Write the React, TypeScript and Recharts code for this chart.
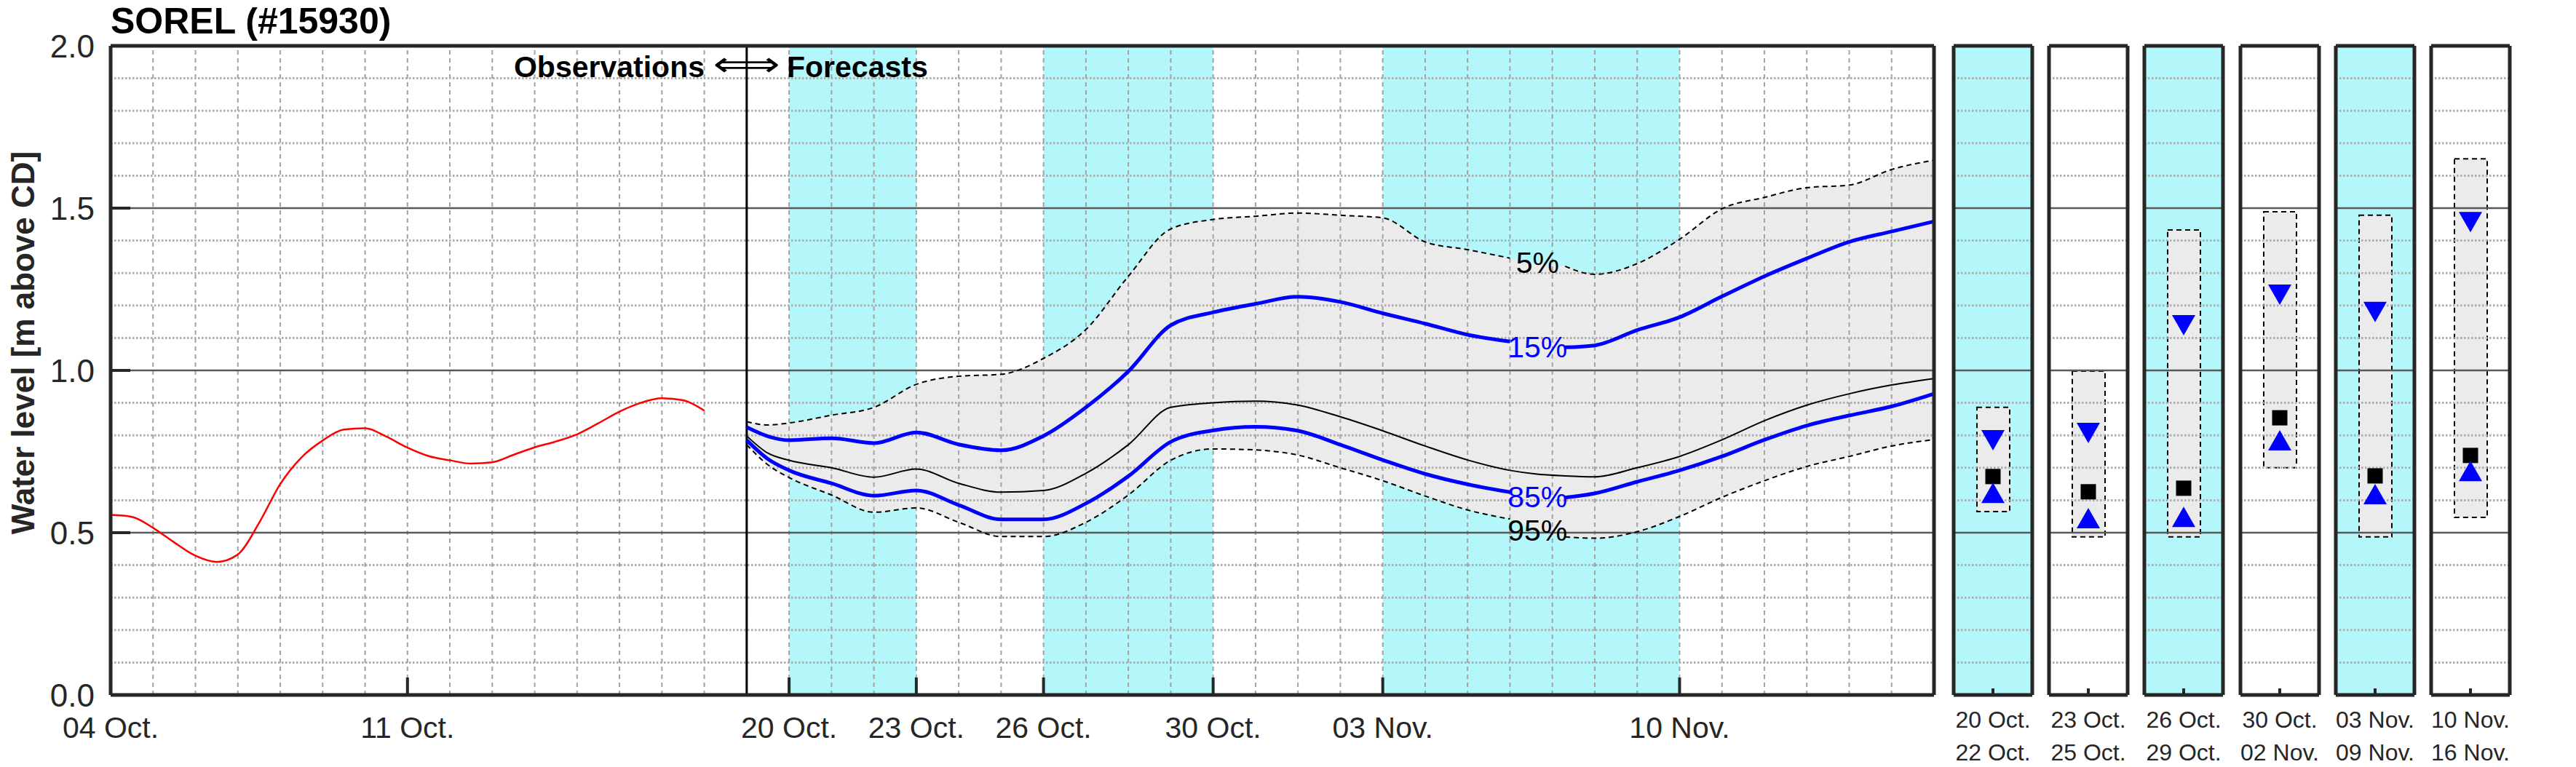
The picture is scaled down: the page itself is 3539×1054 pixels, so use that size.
import React from 'react';
import {
  ComposedChart,
  Line,
  Area,
  Bar,
  Scatter,
  XAxis,
  YAxis,
  ReferenceLine,
  ReferenceArea,
  ReferenceDot,
} from 'recharts';

const FONT = '"Liberation Sans", Arial, Helvetica, sans-serif';
const AXIS = '#262626';
const CYAN = '#b3f7fa';
const BAND = '#ebebeb';

// observed levels, x = days after 04 Oct.
const obsDays = [0, 0.5, 1, 1.5, 2, 2.5, 3, 3.5, 4, 4.5, 5, 5.5, 6, 6.5, 7, 7.5, 8, 8.5, 9, 9.5, 10, 10.5, 11, 11.5, 12, 12.5, 13, 13.5, 14];
const obsLevel = [0.555, 0.549, 0.515, 0.47, 0.429, 0.41, 0.433, 0.53, 0.65, 0.732, 0.784, 0.818, 0.822, 0.796, 0.762, 0.736, 0.723, 0.713, 0.717, 0.74, 0.763, 0.781, 0.803, 0.837, 0.873, 0.9, 0.914, 0.908, 0.876];

// forecast percentiles (exceedance)
const fcDays = [15, 15.5, 16, 17, 18, 19, 20, 21, 22, 23, 24, 25, 26, 27, 28, 29, 30, 31, 32, 33, 33.6, 34.3, 35, 36, 37, 38, 39, 40, 41, 42, 43];
const fcP5 = [0.842, 0.832, 0.838, 0.862, 0.886, 0.957, 0.982, 0.988, 1.037, 1.126, 1.29, 1.436, 1.465, 1.475, 1.485, 1.478, 1.47, 1.396, 1.372, 1.346, 1.33, 1.321, 1.296, 1.329, 1.404, 1.498, 1.533, 1.563, 1.571, 1.619, 1.648];
const fcP15 = [0.825, 0.797, 0.785, 0.791, 0.776, 0.809, 0.772, 0.754, 0.798, 0.886, 0.997, 1.139, 1.179, 1.205, 1.227, 1.211, 1.176, 1.144, 1.11, 1.089, 1.078, 1.071, 1.077, 1.124, 1.164, 1.228, 1.29, 1.345, 1.396, 1.428, 1.459];
const fcP50 = [0.798, 0.745, 0.723, 0.7, 0.671, 0.696, 0.652, 0.625, 0.63, 0.683, 0.771, 0.886, 0.9, 0.905, 0.893, 0.857, 0.814, 0.767, 0.724, 0.692, 0.681, 0.675, 0.672, 0.7, 0.735, 0.786, 0.845, 0.893, 0.928, 0.955, 0.975];
const fcP85 = [0.785, 0.727, 0.692, 0.652, 0.614, 0.63, 0.585, 0.541, 0.541, 0.59, 0.674, 0.78, 0.815, 0.826, 0.814, 0.771, 0.724, 0.681, 0.649, 0.625, 0.615, 0.608, 0.621, 0.657, 0.692, 0.735, 0.786, 0.83, 0.861, 0.889, 0.928];
const fcP95 = [0.771, 0.709, 0.67, 0.616, 0.563, 0.576, 0.532, 0.488, 0.488, 0.532, 0.616, 0.723, 0.758, 0.755, 0.739, 0.7, 0.66, 0.613, 0.57, 0.542, 0.51, 0.487, 0.483, 0.503, 0.55, 0.609, 0.66, 0.704, 0.735, 0.767, 0.787];

// curves are broken where the percent labels sit
const labelDay = 33.65;
const gapFrom = 33;
const gapTo = 34.3;
const pctLabels = ['5%', '15%', '85%', '95%'];
const pctLevels = [1.334, 1.072, 0.612, 0.508];
const pctColors = ['#000000', '#0000ff', '#0000ff', '#000000'];

const tickDays = [0, 7, 16, 19, 22, 26, 30, 37];
const tickLabels = ['04 Oct.', '11 Oct.', '20 Oct.', '23 Oct.', '26 Oct.', '30 Oct.', '03 Nov.', '10 Nov.'];
const shadedPeriods = [[16, 19], [22, 26], [30, 37]];

// summary panels
const periodStart = ['20 Oct.', '23 Oct.', '26 Oct.', '30 Oct.', '03 Nov.', '10 Nov.'];
const periodEnd = ['22 Oct.', '25 Oct.', '29 Oct.', '02 Nov.', '09 Nov.', '16 Nov.'];
const periodShaded = [true, false, true, false, true, false];
const periodP5 = [0.886, 0.998, 1.433, 1.489, 1.478, 1.652];
const periodP15 = [0.785, 0.807, 1.139, 1.233, 1.18, 1.457];
const periodP50 = [0.673, 0.626, 0.637, 0.854, 0.675, 0.738];
const periodP85 = [0.623, 0.545, 0.549, 0.785, 0.619, 0.69];
const periodP95 = [0.565, 0.487, 0.487, 0.7, 0.487, 0.547];

const majorLevels = [0.5, 1, 1.5];
const minorLevels = [0.1, 0.2, 0.3, 0.4, 0.6, 0.7, 0.8, 0.9, 1.1, 1.2, 1.3, 1.4, 1.6, 1.7, 1.8, 1.9];
const dayLines = Array.from({ length: 42 }, (_, i) => i + 1);

const obsRows = obsDays.map((day, i) => ({ day, level: obsLevel[i] }));
const inGap = (d: number) => d > gapFrom && d < gapTo;
const fcRows = fcDays.map((day, i) => ({
  day,
  band: [fcP95[i], fcP5[i]],
  p5: inGap(day) ? null : fcP5[i],
  p15: inGap(day) ? null : fcP15[i],
  p50: fcP50[i],
  p85: inGap(day) ? null : fcP85[i],
  p95: inGap(day) ? null : fcP95[i],
}));

const axisLine = { stroke: AXIS, strokeWidth: 5 };
const tickLine = { stroke: AXIS, strokeWidth: 4 };

function gridLines(prefix: string) {
  return [
    ...minorLevels.map((v) => (
      <ReferenceLine key={`${prefix}m${v}`} y={v} stroke="#aeaeae" strokeWidth={3} strokeDasharray="2.5 2.5" />
    )),
    ...majorLevels.map((v) => (
      <ReferenceLine key={`${prefix}M${v}`} y={v} stroke="#5a5a5a" strokeWidth={2.5} />
    )),
  ];
}

function MainChart() {
  return (
    <ComposedChart width={2700} height={1054} margin={{ top: 0, right: 42, bottom: 0, left: 0 }}>
      <XAxis
        dataKey="day"
        type="number"
        domain={[0, 43]}
        ticks={tickDays}
        interval={0}
        tickFormatter={(d: number) => tickLabels[tickDays.indexOf(d)]}
        height={99}
        tickSize={-24}
        tickMargin={54}
        axisLine={axisLine}
        tickLine={tickLine}
        tick={{ fill: AXIS, fontSize: 41, fontFamily: FONT }}
      />
      <XAxis
        xAxisId="top"
        orientation="top"
        dataKey="day"
        type="number"
        domain={[0, 43]}
        ticks={tickDays}
        interval={0}
        height={63}
        tickSize={-27}
        tick={false}
        axisLine={axisLine}
        tickLine={tickLine}
      />
      <YAxis
        type="number"
        domain={[0, 2]}
        ticks={[0, 0.5, 1, 1.5, 2]}
        interval={0}
        width={152}
        tickSize={-27}
        tickMargin={49}
        tickFormatter={(v: number) => v.toFixed(1)}
        axisLine={axisLine}
        tickLine={tickLine}
        tick={{ fill: AXIS, fontSize: 44, fontFamily: FONT }}
      />
      <YAxis
        yAxisId="right"
        orientation="right"
        type="number"
        domain={[0, 2]}
        ticks={[0.5, 1, 1.5]}
        width={1}
        tickSize={-24}
        tick={false}
        axisLine={axisLine}
        tickLine={tickLine}
      />

      {shadedPeriods.map(([a, b]) => (
        <ReferenceArea key={`s${a}`} x1={a} x2={b} fill={CYAN} fillOpacity={1} stroke="none" />
      ))}

      <Area
        data={fcRows}
        dataKey="band"
        type="monotone"
        stroke="none"
        fill={BAND}
        fillOpacity={1}
        isAnimationActive={false}
      />

      {dayLines.map((d) => (
        <ReferenceLine key={`d${d}`} x={d} stroke="#a2a2a2" strokeWidth={2} strokeDasharray="6 5" />
      ))}
      {gridLines('main')}
      <ReferenceLine x={15} stroke="#000" strokeWidth={3} />

      <Line data={obsRows} dataKey="level" type="monotone" stroke="#ff0000" strokeWidth={2.5} dot={false} activeDot={false} isAnimationActive={false} />
      <Line data={fcRows} dataKey="p5" type="monotone" stroke="#000" strokeWidth={2} strokeDasharray="7 5" dot={false} activeDot={false} isAnimationActive={false} />
      <Line data={fcRows} dataKey="p95" type="monotone" stroke="#000" strokeWidth={2} strokeDasharray="7 5" dot={false} activeDot={false} isAnimationActive={false} />
      <Line data={fcRows} dataKey="p50" type="monotone" stroke="#000" strokeWidth={2} dot={false} activeDot={false} isAnimationActive={false} />
      <Line data={fcRows} dataKey="p15" type="monotone" stroke="#0000ff" strokeWidth={5} dot={false} activeDot={false} isAnimationActive={false} />
      <Line data={fcRows} dataKey="p85" type="monotone" stroke="#0000ff" strokeWidth={5} dot={false} activeDot={false} isAnimationActive={false} />

      {pctLabels.map((t, k) => (
        <ReferenceDot
          key={t}
          x={labelDay}
          y={pctLevels[k]}
          r={0}
          fill="none"
          stroke="none"
          label={{ value: t, position: 'center', fill: pctColors[k], fontSize: 41, fontFamily: FONT }}
        />
      ))}
    </ComposedChart>
  );
}

const squareMark = (p: any) => <rect x={p.cx - 10.5} y={p.cy - 10.5} width={21} height={21} fill="#000" />;
const upMark = (p: any) => <path d={`M${p.cx},${p.cy - 14} L${p.cx + 16},${p.cy + 14} L${p.cx - 16},${p.cy + 14} Z`} fill="#0000ff" />;
const downMark = (p: any) => <path d={`M${p.cx - 16},${p.cy - 14} L${p.cx + 16},${p.cy - 14} L${p.cx},${p.cy + 14} Z`} fill="#0000ff" />;

function PeriodTick(props: any) {
  const { x, y, payload } = props;
  const i = payload.value;
  return (
    <text textAnchor="middle" fontSize={32} fontFamily={FONT} fill={AXIS}>
      <tspan x={x} y={y + 54}>{periodStart[i]}</tspan>
      <tspan x={x} y={y + 99}>{periodEnd[i]}</tspan>
    </text>
  );
}

function PeriodPanel({ i }: { i: number }) {
  const last = i === periodStart.length - 1;
  const rightW = last ? 90 : 11;
  const rows = [
    { name: i, band: [periodP95[i], periodP5[i]], p15: periodP15[i], p50: periodP50[i], p85: periodP85[i] },
  ];
  const plotLeft = Math.round(2684 + i * 131.2);
  return (
    <div style={{ position: 'absolute', left: plotLeft - 12, top: 0 }}>
      <ComposedChart width={12 + 108 + rightW} height={1054} data={rows} margin={{ top: 0, right: 0, bottom: 0, left: 0 }}>
        <XAxis
          dataKey="name"
          type="category"
          height={99}
          tickSize={-9}
          tickMargin={0}
          axisLine={axisLine}
          tickLine={tickLine}
          tick={(p: any) => <PeriodTick {...p} />}
        />
        <XAxis xAxisId="top" orientation="top" dataKey="name" type="category" height={63} tickSize={-9} tick={false} axisLine={axisLine} tickLine={tickLine} />
        <YAxis type="number" domain={[0, 2]} ticks={[0.5, 1, 1.5]} width={12} tickSize={-10} tick={false} axisLine={axisLine} tickLine={tickLine} />
        <YAxis
          yAxisId="right"
          orientation="right"
          type="number"
          domain={[0, 2]}
          ticks={last ? [0, 0.5, 1, 1.5, 2] : [0.5, 1, 1.5]}
          interval={0}
          width={rightW}
          tickSize={-10}
          tickMargin={28}
          tickFormatter={(v: number) => v.toFixed(1)}
          tick={last ? { fill: AXIS, fontSize: 44, fontFamily: FONT } : false}
          axisLine={axisLine}
          tickLine={tickLine}
        />
        {periodShaded[i] && <ReferenceArea y1={0} y2={2} fill={CYAN} fillOpacity={1} stroke="none" />}
        <Bar dataKey="band" barSize={45} fill={BAND} stroke="#000" strokeWidth={2} strokeDasharray="7 5" isAnimationActive={false} />
        {gridLines(`p${i}`)}
        <Scatter dataKey="p50" shape={squareMark} isAnimationActive={false} />
        <Scatter dataKey="p85" shape={upMark} isAnimationActive={false} />
        <Scatter dataKey="p15" shape={downMark} isAnimationActive={false} />
      </ComposedChart>
    </div>
  );
}

export default function App() {
  return (
    <div style={{ position: 'absolute', left: 0, top: 0, width: 3539, height: 1054, background: '#fff', fontFamily: FONT }}>
      <div style={{ position: 'absolute', left: 0, top: 0 }}>
        <MainChart />
      </div>
      {periodStart.map((_, i) => (
        <PeriodPanel key={i} i={i} />
      ))}
      <svg width={3539} height={1054} style={{ position: 'absolute', left: 0, top: 0, pointerEvents: 'none' }}>
        <text x={152} y={46} fontSize={50} fontWeight="bold" fontFamily={FONT} fill="#000">
          SOREL (#15930)
        </text>
        <text
          transform="translate(31,471) rotate(-90)"
          textAnchor="middle"
          dominantBaseline="central"
          fontSize={44}
          fontWeight="bold"
          fontFamily={FONT}
          fill={AXIS}
        >
          Water level [m above CD]
        </text>
        <text x={968} y={106} textAnchor="end" fontSize={41} fontWeight="bold" fontFamily={FONT} fill="#000">
          Observations
        </text>
        <text
          transform="translate(1026,104) scale(1.4,1)"
          textAnchor="middle"
          fontSize={46}
          fontFamily='"DejaVu Sans", sans-serif'
          fill="#000"
        >
          ⟺
        </text>
        <text x={1081} y={106} fontSize={41} fontWeight="bold" fontFamily={FONT} fill="#000">
          Forecasts
        </text>
      </svg>
    </div>
  );
}
